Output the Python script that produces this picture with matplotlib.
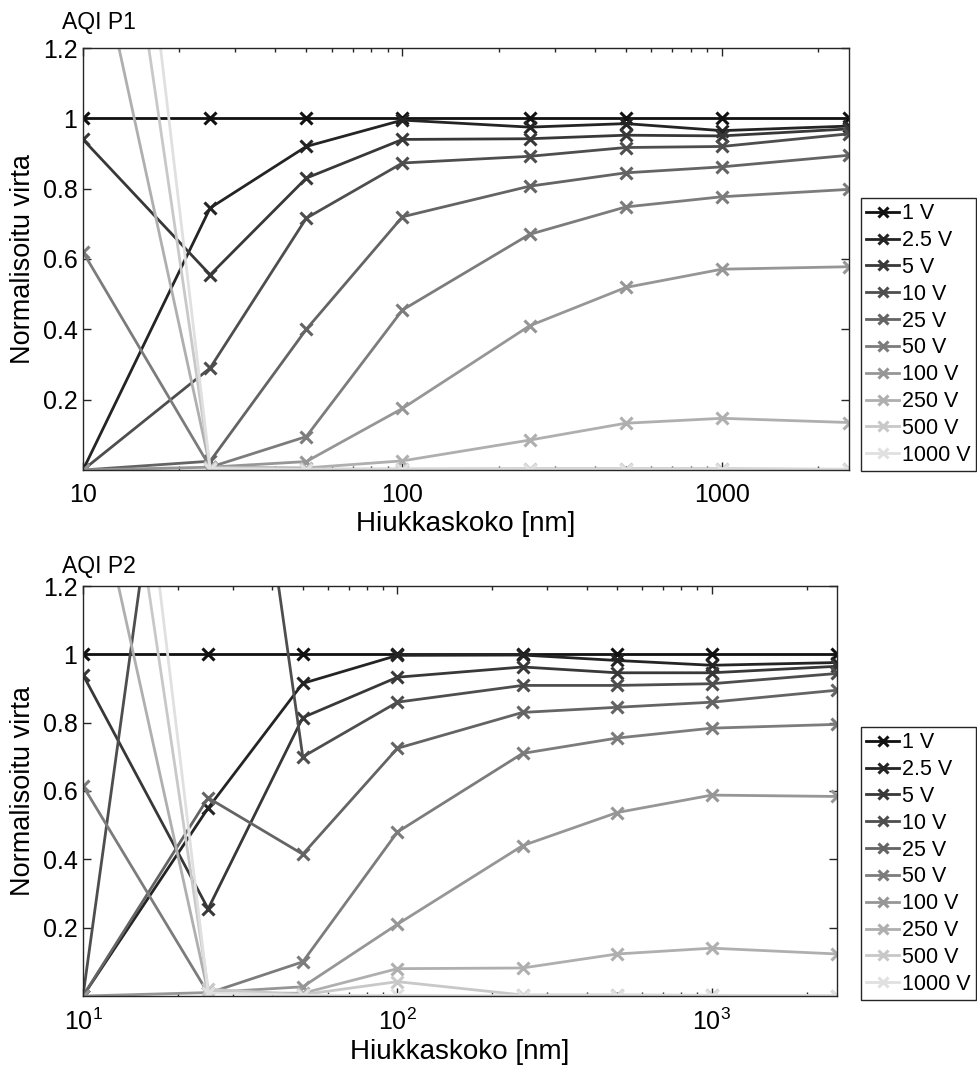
import numpy as np
import matplotlib
matplotlib.use('Agg')
import matplotlib.pyplot as plt
from matplotlib import ticker

plt.rcParams['font.family'] = ['Liberation Sans', 'DejaVu Sans']
plt.rcParams['mathtext.fontset'] = 'custom'
plt.rcParams['mathtext.rm'] = 'Liberation Sans'

# particle sizes [nm]
sizes = [10, 25, 50, 100, 250, 500, 1000, 2500]
voltages = ['1 V', '2.5 V', '5 V', '10 V', '25 V', '50 V', '100 V', '250 V', '500 V', '1000 V']

# AQI P1, normalised current per voltage
p1_1v = [1, 1, 1, 1, 1, 1, 1, 1]
p1_2v5 = [0, 0.745, 0.92, 0.995, 0.975, 0.985, 0.965, 0.978]
p1_5v = [0.94, 0.555, 0.83, 0.94, 0.942, 0.952, 0.95, 0.97]
p1_10v = [0, 0.29, 0.716, 0.873, 0.892, 0.917, 0.92, 0.956]
p1_25v = [0, 0.025, 0.40, 0.72, 0.807, 0.845, 0.862, 0.895]
p1_50v = [0.62, 0.008, 0.095, 0.455, 0.67, 0.748, 0.777, 0.798]
p1_100v = [0, 0.008, 0.024, 0.175, 0.41, 0.519, 0.571, 0.578]
p1_250v = [1.67, 0.008, 0.006, 0.026, 0.085, 0.133, 0.147, 0.135]
p1_500v = [2.48, 0.006, 0.003, 0.003, 0.004, 0.004, 0.004, 0.002]
p1_1000v = [3.07, 0.004, 0.001, 0.001, 0.001, 0.001, 0.001, 0.001]

# AQI P2
p2_1v = [1, 1, 1, 1, 1, 1, 1, 1]
p2_2v5 = [0, 0.55, 0.915, 0.997, 0.998, 0.982, 0.968, 0.976]
p2_5v = [0.94, 0.255, 0.815, 0.933, 0.963, 0.946, 0.946, 0.965]
p2_10v = [0, 2.65, 0.70, 0.86, 0.909, 0.909, 0.914, 0.944]
p2_25v = [0, 0.58, 0.415, 0.725, 0.83, 0.845, 0.86, 0.895]
p2_50v = [0.615, 0.008, 0.10, 0.48, 0.71, 0.755, 0.784, 0.795]
p2_100v = [0, 0.01, 0.027, 0.21, 0.44, 0.537, 0.588, 0.584]
p2_250v = [1.67, 0.01, 0.008, 0.08, 0.082, 0.123, 0.14, 0.123]
p2_500v = [2.48, 0.02, 0.004, 0.042, 0.003, 0.003, 0.002, 0.001]
p2_1000v = [3.07, 0.01, 0.002, 0.002, 0.001, 0.001, 0.001, 0.001]

p1 = [p1_1v, p1_2v5, p1_5v, p1_10v, p1_25v, p1_50v, p1_100v, p1_250v, p1_500v, p1_1000v]
p2 = [p2_1v, p2_2v5, p2_5v, p2_10v, p2_25v, p2_50v, p2_100v, p2_250v, p2_500v, p2_1000v]

colors = ['#111111', '#242424', '#383838', '#4e4e4e', '#646464',
          '#7c7c7c', '#969696', '#afafaf', '#c8c8c8', '#e0e0e0']

W, H = 977, 1074
fig = plt.figure(figsize=(W / 100, H / 100), dpi=100)


def panel(rect, data, title, title_y, legend_top, sci):
    ax = fig.add_axes(rect)
    for vals, c, lab in zip(data, colors, voltages):
        ax.plot(sizes, vals, color=c, lw=2, marker='x', ms=9, mew=2.2, label=lab)
    ax.set_xscale('log')
    ax.set_xlim(10, 2500)
    ax.set_ylim(0, 1.2)
    ax.set_yticks([0.2, 0.4, 0.6, 0.8, 1.0, 1.2])
    ax.set_yticklabels(['0.2', '0.4', '0.6', '0.8', '1', '1.2'])
    ax.set_xticks([10, 100, 1000])
    if sci:
        ax.set_xticklabels(['$10^1$', '$10^2$', '$10^3$'])
    else:
        ax.set_xticklabels(['10', '100', '1000'])
    ax.xaxis.set_minor_locator(ticker.LogLocator(base=10, subs=np.arange(2, 10)))
    ax.xaxis.set_minor_formatter(ticker.NullFormatter())
    ax.tick_params(which='both', direction='in', top=True, right=True,
                   labelsize=18, colors='#262626', labelcolor='black')
    ax.tick_params(which='major', length=6, width=1)
    ax.tick_params(which='minor', length=3, width=1)
    ax.tick_params(axis='x', pad=9)
    ax.tick_params(axis='y', pad=4)
    for s in ax.spines.values():
        s.set_color('#262626')
        s.set_linewidth(1)
    ax.set_xlabel('Hiukkaskoko [nm]', fontsize=20, labelpad=3)
    ax.set_ylabel('Normalisoitu virta', fontsize=19.5, labelpad=5)
    fig.text(62 / W, 1 - title_y / H, title, fontsize=16.5, va='center', ha='left')
    leg = ax.legend(loc='upper left', bbox_to_anchor=(861 / W, 1 - legend_top / H),
                    bbox_transform=fig.transFigure, fontsize=15.5, frameon=True,
                    fancybox=False, framealpha=1, edgecolor='#262626',
                    handlelength=1.5, handletextpad=0.15, labelspacing=0.27,
                    borderpad=0.25, borderaxespad=0, markerscale=0.8)
    leg.get_frame().set_linewidth(1)
    return ax


panel([83 / W, 1 - 470 / H, 766 / W, 422 / H], p1, 'AQI P1', 22, 198, False)
panel([83 / W, 1 - 996 / H, 754 / W, 410 / H], p2, 'AQI P2', 567, 727, True)

fig.savefig('out.png', dpi=100)
